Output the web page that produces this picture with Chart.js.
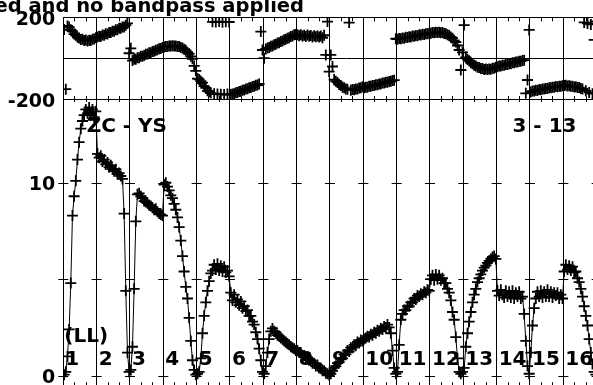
<!DOCTYPE html>
<html lang="en">
<head>
    <meta charset="UTF-8">
    <title>ZC - YS amplitude and phase</title>
    <script src="https://cdn.jsdelivr.net/npm/chart.js"></script>
    <style>
        html, body { margin: 0; padding: 0; background: #fff; overflow: hidden; }
        #wrap { width: 593px; height: 385px; overflow: hidden; position: relative; }
        canvas { position: absolute; left: 0; top: 0; }
    </style>
</head>
<body>
    <div id="wrap"><canvas id="visPlot" width="640" height="395"></canvas></div>

    <script>
        // scan labels along the time axis
        const scanLabels = ['1', '2', '3', '4', '5', '6', '7', '8', '9', '10', '11', '12', '13', '14', '15', '16'];

        // amplitude per integration, one row per scan
        const amplitude = [
            [0.05, 0.2, 1.0, 2.4, 4.8, 8.3, 9.3, 10.1, 11.2, 12.1, 12.8, 13.2, 13.5, 13.8, 13.6, 13.9, 13.5, 13.8, 13.4, 13.7],
            [11.5, 11.3, 11.4, 11.1, 11.2, 10.95, 11.05, 10.8, 10.9, 10.7, 10.6, 10.7, 10.45, 10.5, 10.35, 10.2, 8.4, 4.4, 1.2, 0.2],
            [0.3, 1.5, 4.5, 8.0, 9.4, 9.45, 9.3, 9.2, 9.05, 9.0, 8.95, 8.85, 8.8, 8.7, 8.6, 8.65, 8.5, 8.4, 8.35, 8.3],
            [9.9, 10.0, 9.8, 9.6, 9.35, 9.2, 8.9, 8.6, 8.2, 7.7, 7.0, 6.2, 5.4, 4.6, 4.0, 3.0, 1.8, 0.8, 0.3, 0.05],
            [0.1, 0.2, 0.9, 2.2, 3.1, 3.8, 4.4, 4.9, 5.3, 5.45, 5.75, 5.5, 5.8, 5.45, 5.7, 5.4, 5.65, 5.35, 5.45, 5.15],
            [4.3, 3.9, 4.2, 3.8, 3.95, 3.65, 3.85, 3.5, 3.6, 3.35, 3.4, 3.1, 3.1, 2.8, 2.65, 2.25, 1.9, 1.4, 0.8, 0.2],
            [0.1, 0.5, 1.2, 1.9, 2.3, 2.45, 2.3, 2.25, 2.1, 2.05, 1.95, 1.9, 1.8, 1.75, 1.65, 1.6, 1.5, 1.45, 1.4, 1.3],
            [1.3, 1.2, 1.2, 1.05, 1.05, 0.9, 0.95, 0.8, 0.8, 0.65, 0.65, 0.5, 0.55, 0.4, 0.4, 0.25, 0.25, 0.12, 0.1, 0.03],
            [0.1, 0.25, 0.4, 0.5, 0.65, 0.7, 0.85, 0.9, 1.1, 1.1, 1.3, 1.25, 1.45, 1.45, 1.6, 1.55, 1.75, 1.7, 1.85, 1.8],
            [1.9, 1.95, 2.05, 2.0, 2.15, 2.1, 2.25, 2.2, 2.35, 2.3, 2.45, 2.4, 2.55, 2.5, 2.65, 2.5, 2.2, 1.3, 0.4, 0.1],
            [0.2, 1.6, 2.9, 3.2, 3.4, 3.4, 3.6, 3.6, 3.8, 3.8, 4.0, 3.95, 4.15, 4.1, 4.25, 4.2, 4.35, 4.3, 4.45, 4.4],
            [5.0, 5.2, 4.95, 5.25, 5.0, 5.2, 4.95, 5.05, 4.8, 4.8, 4.5, 4.3, 3.9, 3.3, 2.9, 2.0, 0.9, 0.2, 0.1, 0.2],
            [0.4, 1.5, 2.2, 2.8, 3.3, 3.8, 4.2, 4.5, 4.85, 5.05, 5.25, 5.45, 5.6, 5.7, 5.85, 5.95, 6.05, 6.15, 6.2, 6.05],
            [4.4, 4.15, 4.45, 4.2, 4.05, 4.4, 4.1, 4.35, 4.05, 4.4, 4.0, 4.3, 4.1, 4.35, 4.0, 4.1, 3.2, 1.8, 0.5, 0.1],
            [1.2, 2.6, 3.5, 4.0, 4.35, 4.1, 4.4, 4.05, 4.35, 4.1, 4.45, 4.1, 4.35, 4.05, 4.3, 4.15, 4.3, 4.0, 4.2, 4.0],
            [5.4, 5.75, 5.5, 5.7, 5.45, 5.65, 5.35, 5.4, 5.05, 4.85, 4.5, 4.1, 3.6, 3.1, 2.6, 1.9, 1.2, 0.6, 0.2, 0.05]
        ];

        // phase in degrees, same integrations
        const phase = [
            [140, -152, 158, 152, 139, 131, 118, 112, 102, 99, 91, 92, 86, 89, 84, 88, 86, 93, 94, 100],
            [103, 107, 106, 113, 112, 119, 118, 126, 125, 132, 132, 139, 139, 146, 146, 153, 153, 161, 170, 24],
            [48, -12, -5, -5, 2, 2, 9, 9, 13, 19, 20, 26, 27, 33, 34, 39, 41, 46, 47, 52],
            [54, 57, 57, 60, 59, 61, 59, 60, 57, 57, 52, 50, 43, 39, 29, 22, 9, -3, -38, -62],
            [-100, -104, -112, -120, -137, -146, -160, -164, -171, 178, -174, 177, -176, 179, -177, 176, -178, 178, -176, 177],
            [-178, -175, -174, -169, -168, -163, -162, -157, -156, -151, -150, -145, -144, -139, -138, -133, -132, -126, 130, 40],
            [0, 45, 50, 52, 58, 60, 66, 68, 74, 76, 82, 84, 90, 92, 98, 100, 106, 108, 114, 116],
            [114, 110, 115, 108, 112, 106, 113, 107, 111, 104, 110, 105, 108, 103, 108, 100, 112, 16, 179, -66],
            [16, -41, -105, -113, -119, -129, -134, -142, -145, -151, -152, 174, -157, -154, -155, -151, -151, -146, -145, -140],
            [-145, -142, -142, -138, -138, -134, -134, -130, -130, -126, -126, -122, -122, -118, -118, -114, -113, -109, -108, 95],
            [93, 96, 95, 99, 98, 102, 101, 105, 104, 108, 107, 111, 110, 114, 113, 117, 116, 120, 119, 122],
            [122, 125, 124, 127, 125, 127, 124, 125, 121, 120, 114, 111, 103, 98, 87, 79, 62, 40, -58, 28],
            [162, 4, -6, -13, -23, -27, -35, -38, -44, -46, -51, -51, -55, -53, -56, -53, -54, -50, -49, -44],
            [-42, -39, -39, -35, -35, -31, -31, -27, -27, -23, -23, -19, -19, -15, -15, -11, -10, -172, -107, 138],
            [-166, -161, -161, -157, -158, -154, -155, -151, -151, -148, -148, -145, -145, -142, -142, -139, -140, -137, -138, -135],
            [-134, -133, -136, -135, -138, -137, -141, -140, -144, -144, -149, -151, 175, -160, 170, -168, 165, -174, 89, 180]
        ];

        const phaseTicks = [-200, 200];
        const ampTicks = [0, 10];
        const ampMarks = [0, 5, 10];

        // integrations are evenly spaced inside each scan
        function scanPoints(rows) {
            const pts = [];
            rows.forEach((row, s) => {
                row.forEach((v, j) => pts.push({ x: s + (j + 0.5) / row.length, y: v }));
            });
            return pts;
        }

        const BOLD = '"DejaVu Sans", sans-serif';

        const framePlugin = {
            id: 'frame',
            beforeDatasetsDraw(chart) {
                const { ctx, chartArea, scales } = chart;
                const x = scales.x, yA = scales.yAmp, yP = scales.yPhase;
                ctx.save();
                ctx.strokeStyle = '#000';
                ctx.lineWidth = 1;
                ctx.beginPath();
                // minor ticks, three per scan
                for (let k = 0; k <= 17 * 3; k++) {
                    if (k % 3 === 0) continue;
                    const px = Math.round(x.getPixelForValue(k / 3)) + 0.5;
                    ctx.moveTo(px, chartArea.top); ctx.lineTo(px, chartArea.top + 4);
                    ctx.moveTo(px, yP.bottom - 3); ctx.lineTo(px, yP.bottom + 3);
                    ctx.moveTo(px, chartArea.bottom - 4); ctx.lineTo(px, chartArea.bottom);
                }
                // amplitude level marks on each scan boundary
                for (let k = 0; k <= 17; k++) {
                    const px = x.getPixelForValue(k);
                    ampMarks.forEach(v => {
                        const py = Math.round(yA.getPixelForValue(v)) + 0.5;
                        ctx.moveTo(px - 5, py); ctx.lineTo(px + 5, py);
                    });
                }
                ctx.stroke();

                // baseline and scan annotations inside the plot
                ctx.fillStyle = '#000';
                ctx.font = 'bold 20px ' + BOLD;
                ctx.textBaseline = 'alphabetic';
                ctx.textAlign = 'left';
                const zero = yA.getPixelForValue(0);
                scanLabels.forEach((lab, k) => {
                    ctx.fillText(lab, x.getPixelForValue(k) + 2, zero - 10.5);
                });
                ctx.fillText('(LL)', x.getPixelForValue(0) + 1, zero - 34);
                ctx.fillText('ZC - YS', x.getPixelForValue(0.7), yA.top + 33);
                ctx.fillText('3 - 13', x.getPixelForValue(13.475), yA.top + 33);
                ctx.restore();
            },
            beforeDatasetDraw(chart, args) {
                const { ctx, chartArea } = chart;
                const y = chart.scales[args.meta.yAxisID];
                ctx.save();
                ctx.beginPath();
                ctx.rect(chartArea.left, y.top - 1, chartArea.width, y.bottom - y.top + 2);
                ctx.clip();
            },
            afterDatasetDraw(chart) {
                chart.ctx.restore();
            },
            afterDraw(chart) {
                const { ctx, scales } = chart;
                const x = scales.x, yA = scales.yAmp, yP = scales.yPhase;
                ctx.save();
                ctx.fillStyle = '#000';
                ctx.textBaseline = 'alphabetic';
                ctx.font = 'bold 19px ' + BOLD;
                ctx.textAlign = 'right';
                const lx = x.left - 8;
                phaseTicks.forEach(v => ctx.fillText(String(v), lx, yP.getPixelForValue(v) + 7.5));
                ampTicks.forEach(v => ctx.fillText(String(v), lx, yA.getPixelForValue(v) + 7.5));
                ctx.font = 'bold 19.5px ' + BOLD;
                ctx.fillText('Data calibrated and no bandpass applied', 304, 12);
                ctx.restore();
            }
        };

        const ctx = document.getElementById('visPlot').getContext('2d');
        const crossStyle = {
            pointStyle: 'cross',
            pointRadius: 5.5,
            pointHoverRadius: 5.5,
            pointBorderWidth: 1.8,
            pointBorderColor: '#000',
            pointBackgroundColor: '#000'
        };

        new Chart(ctx, {
            type: 'scatter',
            data: {
                datasets: [
                    Object.assign({
                        label: 'Amplitude',
                        data: scanPoints(amplitude),
                        yAxisID: 'yAmp',
                        showLine: true,
                        borderColor: '#000',
                        borderWidth: 1
                    }, crossStyle),
                    Object.assign({
                        label: 'Phase',
                        data: scanPoints(phase),
                        yAxisID: 'yPhase',
                        showLine: false
                    }, crossStyle)
                ]
            },
            options: {
                responsive: false,
                animation: false,
                devicePixelRatio: 1,
                layout: { padding: { left: 63.3, top: 17.3, right: 10, bottom: 8.7 } },
                plugins: { legend: { display: false }, tooltip: { enabled: false } },
                scales: {
                    x: {
                        type: 'linear', min: 0, max: 17,
                        ticks: { display: false, stepSize: 1 },
                        grid: { color: '#000', lineWidth: 1, drawTicks: false },
                        border: { display: false }
                    },
                    yAmp: {
                        type: 'linear', position: 'left', stack: 'panels', stackWeight: 287.3, weight: 0,
                        min: -0.55, max: 14.34,
                        ticks: { display: false },
                        grid: { display: false, drawTicks: false },
                        border: { display: false }
                    },
                    yPhase: {
                        type: 'linear', position: 'left', stack: 'panels', stackWeight: 81.7, weight: 1,
                        min: -200, max: 200,
                        ticks: { display: false, stepSize: 200 },
                        grid: { color: '#000', lineWidth: 1, drawTicks: false },
                        border: { display: false }
                    }
                }
            },
            plugins: [framePlugin]
        });
    </script>
</body>
</html>
